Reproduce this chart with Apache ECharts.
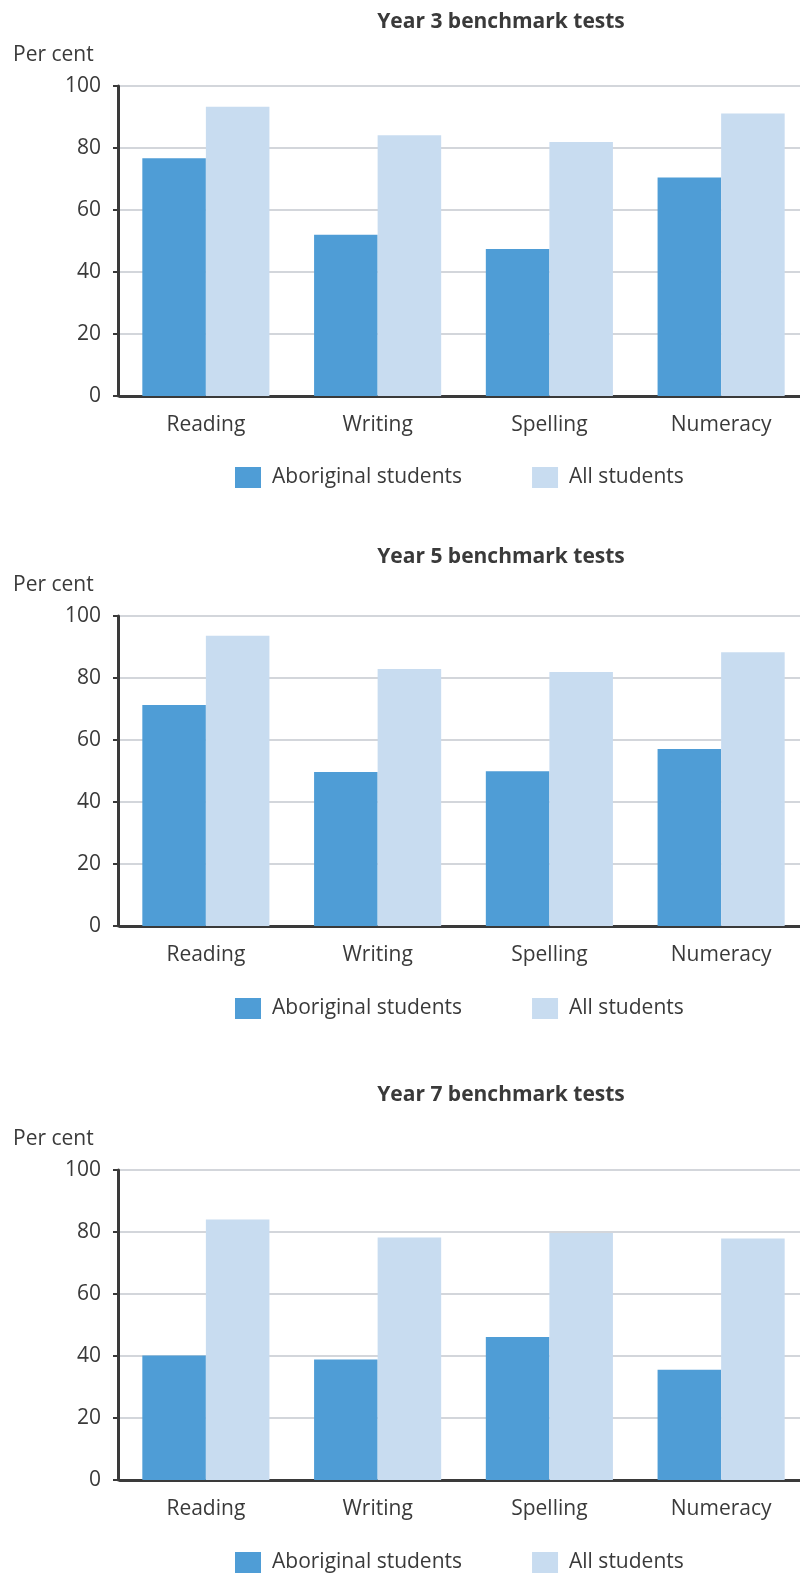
<!DOCTYPE html>
<html><head><meta charset="utf-8">
<script src="https://cdn.jsdelivr.net/npm/echarts@6/dist/echarts.min.js"></script>
<style>html,body{margin:0;padding:0;background:#fff}#c{width:800px;height:1574px}</style>
</head><body><div id="c"></div>
<script>
const categories = ['Reading', 'Writing', 'Spelling', 'Numeracy'];
const seriesNames = ['Aboriginal students', 'All students'];
const titles = ['Year 3 benchmark tests', 'Year 5 benchmark tests', 'Year 7 benchmark tests'];
const yTicks = [0, 20, 40, 60, 80, 100];
const year3Aboriginal = [76.7, 52.0, 47.4, 70.5];
const year3All = [93.3, 84.1, 81.9, 91.1];
const year5Aboriginal = [71.3, 49.7, 49.9, 57.1];
const year5All = [93.6, 82.9, 81.9, 88.3];
const year7Aboriginal = [40.2, 38.9, 46.1, 35.6];
const year7All = [84.0, 78.2, 79.7, 77.9];

const data = [[year3Aboriginal, year3All], [year5Aboriginal, year5All], [year7Aboriginal, year7All]];
const gridTops = [86, 616, 1170];
const titleY = [22, 557, 1095];
const legendY = [474, 1005, 1559];
const FONT = '"Open Sans", "Noto Sans", sans-serif';
const TXT = '#3a3a3a';
const colors = ['#4f9dd6', '#c8dcf0'];

const grids = [], xAxes = [], yAxes = [], series = [], legends = [], graphics = [];
gridTops.forEach((top, i) => {
  grids.push({left: 120, top: top, width: 687, height: 310, containLabel: false, outerBoundsMode: 'none'});
  xAxes.push({type: 'category', gridIndex: i, data: categories,
    axisLine: {show: true, lineStyle: {color: '#3a3a3a', width: 3}},
    axisTick: {show: false},
    axisLabel: {color: TXT, fontSize: 21, fontFamily: FONT, margin: 19}});
  yAxes.push({type: 'value', gridIndex: i, min: yTicks[0], max: yTicks[yTicks.length - 1], interval: 20,
    offset: 2,
    axisLine: {show: true, lineStyle: {color: '#3a3a3a', width: 3}},
    axisTick: {show: true, length: 5, lineStyle: {color: '#3a3a3a', width: 2}},
    splitLine: {show: true, lineStyle: {color: '#d3d6db', width: 2}},
    axisLabel: {color: TXT, fontSize: 21, fontFamily: FONT, margin: 17}});
  seriesNames.forEach((n, k) => {
    series.push({type: 'bar', name: n, xAxisIndex: i, yAxisIndex: i, data: data[i][k],
      barGap: '0%', barCategoryGap: '26%', itemStyle: {color: colors[k]}, silent: true, animation: false});
  });
  legends.push({data: seriesNames, left: 235, top: legendY[i] - 7, padding: 0, itemWidth: 26, itemHeight: 21,
    itemGap: 70, icon: 'rect', selectedMode: false,
    textStyle: {color: TXT, fontSize: 21, fontFamily: FONT, padding: [0, 0, 0, 6]}});
  graphics.push({type: 'text', x: 501, y: titleY[i], style: {text: titles[i], fill: TXT,
    font: 'bold 21px ' + FONT, textAlign: 'center', textVerticalAlign: 'middle'}});
  graphics.push({type: 'text', x: 13, y: top - 30.5, style: {text: 'Per cent', fill: TXT,
    font: '21px ' + FONT, textAlign: 'left', textVerticalAlign: 'middle'}});
});

const chart = echarts.init(document.getElementById('c'), null, {renderer: 'canvas'});
chart.setOption({animation: false, grid: grids, xAxis: xAxes, yAxis: yAxes, series: series,
  legend: legends, graphic: graphics});
</script></body></html>
